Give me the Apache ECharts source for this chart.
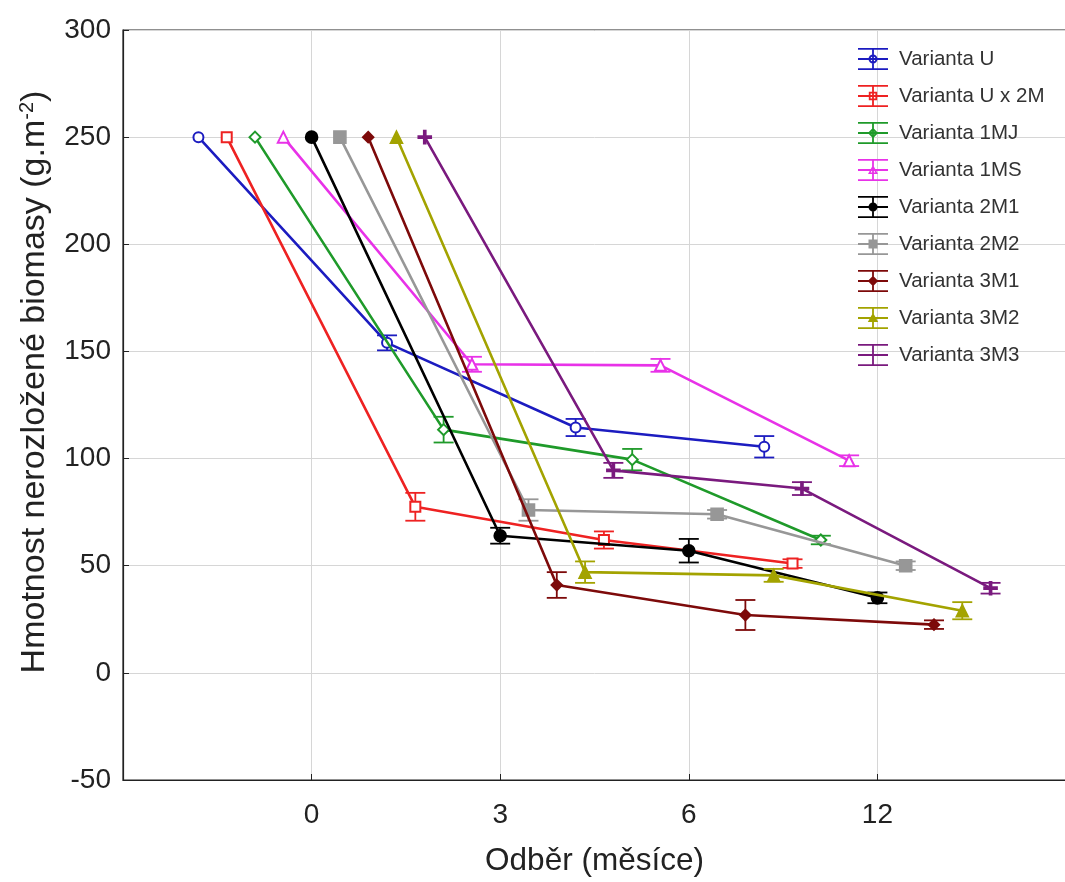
<!DOCTYPE html>
<html><head><meta charset="utf-8">
<script src="https://cdn.jsdelivr.net/npm/echarts@6/dist/echarts.min.js"></script>
<style>html,body{margin:0;padding:0;background:#fff}#c{width:1065px;height:882px}</style>
</head><body><div id="c"></div>
<script>
const categories = ['0', '3', '6', '12'];
const seriesNames = ['Varianta U', 'Varianta U x 2M', 'Varianta 1MJ', 'Varianta 1MS', 'Varianta 2M1', 'Varianta 2M2', 'Varianta 3M1', 'Varianta 3M2', 'Varianta 3M3'];
const valU    = [250, 154, 114.5, 105.5];
const valUx2M = [250, 77.5, 62, 51];
const val1MJ  = [250, 113.5, 99.5, 62];
const val1MS  = [250, 144, 143.5, 99];
const val2M1  = [250, 64, 57, 35];
const val2M2  = [250, 76, 74, 50];
const val3M1  = [250, 41, 27, 22.5];
const val3M2  = [250, 47, 45.5, 29];
const val3M3  = [250, 94.5, 86, 39.5];
const errU    = [0, 3.5, 4, 5];
const errUx2M = [0, 6.5, 4, 2];
const err1MJ  = [0, 6, 5, 2];
const err1MS  = [0, 3.5, 3, 2.5];
const err2M1  = [0, 3.7, 5.5, 2.5];
const err2M2  = [0, 5, 2, 2];
const err3M1  = [0, 6, 7, 2];
const err3M2  = [0, 5, 3, 4];
const err3M3  = [0, 3.5, 3, 2.5];
const yTicks = { min: -50, max: 300, step: 50 };

const values = [valU, valUx2M, val1MJ, val1MS, val2M1, val2M2, val3M1, val3M2, val3M3];
const errors = [errU, errUx2M, err1MJ, err1MS, err2M1, err2M2, err3M1, err3M2, err3M3];
const colors = ['#1c1cc0', '#ee2222', '#1f9a2a', '#e832e8', '#000000', '#979797', '#7d0a0a', '#a3a300', '#7a1a7e'];
const plusPath = 'path://M0,4.2h10v1.6h-10z M4.2,0h1.6v10h-1.6z';
const symbols = ['emptyCircle', 'emptyRect', 'emptyDiamond', 'emptyTriangle', 'circle', 'rect', 'diamond', 'triangle', plusPath];
const symSizes = [10, 10, 11, 11, 12, 12, 11, 12, 13];

const base = 'M0,0h30v1.8h-30z M0,20.2h30v1.8h-30z M14.1,0h1.8v22h-1.8z M0,10.1h30v1.8h-30z ';
const mk = [
  'M10.5,11a4.5,4.5 0 1,1 9,0a4.5,4.5 0 1,1 -9,0z M12.5,11a2.5,2.5 0 1,0 5,0a2.5,2.5 0 1,0 -5,0z',
  'M10.8,6.8h8.4v8.4h-8.4z M12.6,8.6v4.8h4.8v-4.8z',
  'M15,5.8l5.2,5.2l-5.2,5.2l-5.2,-5.2z M15,8.4l-2.6,2.6l2.6,2.6l2.6,-2.6z',
  'M15,6l5,9h-10z M15,9.4l-2.4,4.2h4.8z',
  'M10.5,11a4.5,4.5 0 1,1 9,0a4.5,4.5 0 1,1 -9,0z',
  'M10.5,6.5h9v9h-9z',
  'M15,5.8l5.2,5.2l-5.2,5.2l-5.2,-5.2z',
  'M15,5.8l5.2,9.2h-10.4z',
  'M9.5,10.1h11v1.8h-11z'
];

const n = seriesNames.length;
const series = [];
seriesNames.forEach((name, i) => {
  const off = (i - (n - 1) / 2) * 0.15;
  const pts = categories.map((c, k) => [k + off, values[i][k], errors[i][k]]);
  series.push({
    name: name, type: 'custom', z: 3 + i,
    itemStyle: { color: colors[i] },
    data: pts,
    renderItem: function (params, api) {
      const x = api.value(0), v = api.value(1), e = api.value(2);
      if (!e) return null;
      const lo = api.coord([x, v - e]), hi = api.coord([x, v + e]);
      const hw = 10;
      const st = { stroke: colors[i], lineWidth: 1.8 };
      return { type: 'group', children: [
        { type: 'line', shape: { x1: lo[0], y1: lo[1], x2: hi[0], y2: hi[1] }, style: st },
        { type: 'line', shape: { x1: lo[0] - hw, y1: lo[1], x2: lo[0] + hw, y2: lo[1] }, style: st },
        { type: 'line', shape: { x1: hi[0] - hw, y1: hi[1], x2: hi[0] + hw, y2: hi[1] }, style: st }
      ]};
    }
  });
  series.push({
    name: name, type: 'line', z: 3 + i,
    data: pts.map(p => [p[0], p[1]]),
    symbol: symbols[i], symbolSize: symSizes[i], showSymbol: true,
    lineStyle: { color: colors[i], width: 2.6 },
    itemStyle: { color: colors[i], borderColor: colors[i], borderWidth: 1.6 },
    emphasis: { disabled: true }, animation: false
  });
});

const chart = echarts.init(document.getElementById('c'));
chart.setOption({
  animation: false,
  backgroundColor: '#ffffff',
  color: colors,
  grid: { left: 123, width: 943, top: 30, bottom: 102, show: true, borderColor: '#222', borderWidth: 1.2, backgroundColor: 'transparent', outerBoundsMode: 'none', containLabel: false },
  legend: {
    data: seriesNames.map((s, i) => ({ name: s, icon: 'path://' + base + mk[i], itemStyle: { color: colors[i], borderWidth: 0 } })),
    orient: 'vertical', left: 853, top: 43,
    itemWidth: 30, itemHeight: 22, itemGap: 15,
    textStyle: { fontFamily: 'Liberation Sans, Arial, sans-serif', fontSize: 20.5, color: '#333', padding: [0, 0, 0, 6] },
    backgroundColor: 'transparent', selectedMode: false
  },
  xAxis: {
    type: 'value', min: -1, max: 4, interval: 1,
    name: 'Odběr (měsíce)', nameLocation: 'middle', nameGap: 65,
    nameTextStyle: { fontFamily: 'Liberation Sans, Arial, sans-serif', fontSize: 31.5, color: '#222' },
    axisLine: { show: true, onZero: false, lineStyle: { color: '#222', width: 1.2 } },
    axisTick: { show: true, inside: true, length: 6, lineStyle: { color: '#222' } },
    axisLabel: {
      margin: 21, fontFamily: 'Liberation Sans, Arial, sans-serif', fontSize: 28, color: '#222',
      formatter: v => (v >= 0 && v < categories.length) ? categories[v] : ''
    },
    splitLine: { show: true, lineStyle: { color: '#d6d6d6', width: 1 } }
  },
  yAxis: {
    type: 'value', min: yTicks.min, max: yTicks.max, interval: yTicks.step,
    name: 'Hmotnost nerozložené biomasy (g.m{sup|-2})', nameLocation: 'middle', nameGap: 70,
    nameTextStyle: { fontFamily: 'Liberation Sans, Arial, sans-serif', fontSize: 34, color: '#222', padding: [0, 0, 0, 46],
      rich: { sup: { fontSize: 20, verticalAlign: 'top', padding: [0, 0, 16, 0], fontFamily: 'Liberation Sans, Arial, sans-serif', color: '#222' } } },
    axisLine: { show: true, onZero: false, lineStyle: { color: '#222', width: 1.2 } },
    axisTick: { show: true, inside: true, length: 6, lineStyle: { color: '#222' } },
    axisLabel: { margin: 12, fontFamily: 'Liberation Sans, Arial, sans-serif', fontSize: 28, color: '#222' },
    splitLine: { show: true, lineStyle: { color: '#d6d6d6', width: 1 } }
  },
  series: series
});
</script></body></html>
